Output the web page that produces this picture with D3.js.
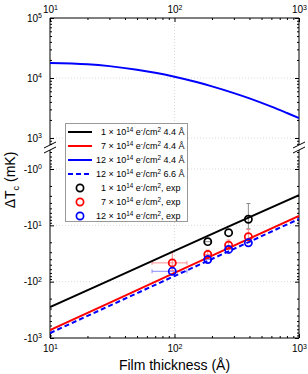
<!DOCTYPE html>
<html>
<head>
<meta charset="utf-8">
<script src="https://cdn.jsdelivr.net/npm/d3@7"></script>
<style>
body { margin: 0; background: #fff; }
svg { display: block; font-family: "Liberation Sans", Arial, sans-serif; }
</style>
</head>
<body>
<svg id="chart" width="308" height="374"></svg>
<script>
// film thickness (Angstrom) for the theory lines
var thick = [10, 30, 100, 300, 1000];
var dT_1e14 = [-283, -95, -28.5, -9.5, -2.9];
var dT_7e14 = [-724, -238, -70, -23, -6.8];
var dT_12e14_66 = [-818, -269, -79.5, -26.2, -7.7];

// the 12e14 4.4 A curve sits on the positive branch
var thickHi = [10, 20, 30, 50, 70, 100, 150, 200, 300, 400, 600, 800, 1000];
var dT_12e14_44 = [17800, 16950, 15770, 13740, 12190, 10470, 8550, 7260, 5600, 4570, 3330, 2610, 2150];

// experiment
var expThick1 = [185, 272, 392];
var expDT1 = [-19.5, -13.5, -7.8];
var expXErr1 = [10, 0, 0];
var expYErr1 = [0, 0, 3.7];

var expThick7 = [96, 185, 272, 392];
var expDT7 = [-46.4, -32.9, -22.5, -15.9];
var expXErr7 = [30, 10, 0, 0];
var expYErr7 = [17, 5.4, 4.3, 4];

var expThick12 = [96, 185, 272, 392];
var expDT12 = [-65.5, -40.5, -26.8, -20.4];
var expXErr12 = [30, 10, 0, 0];
var expYErr12 = [0, 0, 0, 0];

var xTicks = [10, 100, 1000];
var yTicksHi = [1e3, 1e4, 1e5];
var yTicksLo = [1, 10, 100, 1000]; // magnitudes of the negative branch

var legendItems = [
	{num: "1", tail: " 4.4 Å", color: "#000", kind: "line"},
	{num: "7", tail: " 4.4 Å", color: "#f00", kind: "line"},
	{num: "12", tail: " 4.4 Å", color: "#00f", kind: "line"},
	{num: "12", tail: " 6.6 Å", color: "#00f", kind: "dash"},
	{num: "1", tail: ", exp", color: "#000", kind: "circle"},
	{num: "7", tail: ", exp", color: "#f00", kind: "circle"},
	{num: "12", tail: ", exp", color: "#00f", kind: "circle"}
];

var svg = d3.select("#chart");
var pLeft = 50, pRight = 299, pTop = 18, pBottom = 338;
var hiBottom = 145, loTop = 150;

var x = d3.scaleLog().domain([10, 1000]).range([pLeft, pRight]);
var yHi = d3.scaleLog().domain([1e3, 1e5]).range([138, pTop]);
var yLo = d3.scaleLog().domain([1, 1000]).range([169, pBottom]);

var defs = svg.append("defs");
defs.append("clipPath").attr("id", "clipHi")
	.append("rect").attr("x", pLeft).attr("y", pTop).attr("width", pRight - pLeft).attr("height", hiBottom - pTop);
defs.append("clipPath").attr("id", "clipLo")
	.append("rect").attr("x", pLeft).attr("y", loTop).attr("width", pRight - pLeft).attr("height", pBottom - loTop);

// grid
var grid = svg.append("g")
	.attr("stroke", "#d0d0d0")
	.attr("stroke-width", 0.8)
	.attr("stroke-dasharray", "1,2");
grid.selectAll(".gx").data([100]).enter().append("line")
	.attr("x1", d => x(d)).attr("x2", d => x(d))
	.attr("y1", pTop).attr("y2", hiBottom);
grid.selectAll(".gx2").data([100]).enter().append("line")
	.attr("x1", d => x(d)).attr("x2", d => x(d))
	.attr("y1", loTop).attr("y2", pBottom);
grid.selectAll(".gh").data([1e3, 1e4]).enter().append("line")
	.attr("x1", pLeft).attr("x2", pRight)
	.attr("y1", d => yHi(d)).attr("y2", d => yHi(d));
grid.selectAll(".gl").data([1, 10, 100]).enter().append("line")
	.attr("x1", pLeft).attr("x2", pRight)
	.attr("y1", d => yLo(d)).attr("y2", d => yLo(d));

function supText(text, base, exp) {
	text.text(null);
	text.append("tspan").text(base);
	text.append("tspan").attr("dy", "-0.5em").attr("font-size", "0.7em").text(exp);
}

function minors(lo, hi) {
	var out = [];
	for (var p = lo; p < hi; p++) {
		for (var k = 2; k <= 9; k++) out.push(k * Math.pow(10, p));
	}
	return out;
}

function styleAxis(g) {
	g.select(".domain").remove();
	g.selectAll(".tick line").attr("stroke", "#000");
	g.selectAll("text").attr("fill", "#000").attr("font-size", 10);
}

// x axes, ticks point inward
var xMinor = minors(1, 3);
svg.append("g").attr("transform", "translate(0," + pBottom + ")")
	.call(d3.axisBottom(x).tickValues(xTicks).tickSize(-4).tickPadding(7))
	.call(styleAxis)
	.selectAll(".tick text").each(function(d) { supText(d3.select(this), "10", Math.round(Math.log10(d))); });
svg.append("g").attr("transform", "translate(0," + pBottom + ")")
	.call(d3.axisBottom(x).tickValues(xMinor).tickSize(-2).tickFormat(""))
	.call(styleAxis);
svg.append("g").attr("transform", "translate(0," + pTop + ")")
	.call(d3.axisTop(x).tickValues(xTicks).tickSize(-4).tickPadding(5))
	.call(styleAxis)
	.selectAll(".tick text").each(function(d) { supText(d3.select(this), "10", Math.round(Math.log10(d))); });
svg.append("g").attr("transform", "translate(0," + pTop + ")")
	.call(d3.axisTop(x).tickValues(xMinor).tickSize(-2).tickFormat(""))
	.call(styleAxis);

// y axes, upper (positive) part
var hiMinor = minors(2, 5).filter(d => yHi(d) <= hiBottom);
svg.append("g").attr("transform", "translate(" + pLeft + ",0)")
	.call(d3.axisLeft(yHi).tickValues(yTicksHi).tickSize(-4).tickPadding(8))
	.call(styleAxis)
	.selectAll(".tick text").each(function(d) { supText(d3.select(this), "10", Math.round(Math.log10(d))); });
svg.append("g").attr("transform", "translate(" + pLeft + ",0)")
	.call(d3.axisLeft(yHi).tickValues(hiMinor).tickSize(-2).tickFormat(""))
	.call(styleAxis);
svg.append("g").attr("transform", "translate(" + pRight + ",0)")
	.call(d3.axisRight(yHi).tickValues(yTicksHi).tickSize(-4).tickFormat(""))
	.call(styleAxis);
svg.append("g").attr("transform", "translate(" + pRight + ",0)")
	.call(d3.axisRight(yHi).tickValues(hiMinor).tickSize(-2).tickFormat(""))
	.call(styleAxis);

// y axes, lower (negative) part, plotted by magnitude
var loMinor = minors(-1, 3).filter(d => yLo(d) >= loTop);
svg.append("g").attr("transform", "translate(" + pLeft + ",0)")
	.call(d3.axisLeft(yLo).tickValues(yTicksLo).tickSize(-4).tickPadding(8))
	.call(styleAxis)
	.selectAll(".tick text").each(function(d) { supText(d3.select(this), "-10", Math.round(Math.log10(d))); });
svg.append("g").attr("transform", "translate(" + pLeft + ",0)")
	.call(d3.axisLeft(yLo).tickValues(loMinor).tickSize(-2).tickFormat(""))
	.call(styleAxis);
svg.append("g").attr("transform", "translate(" + pRight + ",0)")
	.call(d3.axisRight(yLo).tickValues(yTicksLo).tickSize(-4).tickFormat(""))
	.call(styleAxis);
svg.append("g").attr("transform", "translate(" + pRight + ",0)")
	.call(d3.axisRight(yLo).tickValues(loMinor).tickSize(-2).tickFormat(""))
	.call(styleAxis);

// box with a break in the y axis
var box = svg.append("g").attr("stroke", "#000").attr("stroke-width", 1).attr("fill", "none");
[pLeft, pRight].forEach(function(xx) {
	box.append("line").attr("x1", xx).attr("x2", xx).attr("y1", pTop).attr("y2", hiBottom);
	box.append("line").attr("x1", xx).attr("x2", xx).attr("y1", loTop).attr("y2", pBottom);
	box.append("line").attr("x1", xx - 6).attr("x2", xx + 6).attr("y1", hiBottom + 3).attr("y2", hiBottom - 3);
	box.append("line").attr("x1", xx - 6).attr("x2", xx + 6).attr("y1", loTop + 3).attr("y2", loTop - 3);
});
box.append("line").attr("x1", pLeft).attr("x2", pRight).attr("y1", pTop).attr("y2", pTop);
box.append("line").attr("x1", pLeft).attr("x2", pRight).attr("y1", pBottom).attr("y2", pBottom);

// error bars
var errs = svg.append("g").attr("clip-path", "url(#clipLo)").attr("stroke-width", 1);
function drawErr(xs, ys, xe, ye, color) {
	xs.forEach(function(t, i) {
		var m = -ys[i];
		var cy = yLo(m);
		if (xe[i] > 0) {
			var x0 = x(t - xe[i]), x1 = x(t + xe[i]);
			errs.append("line").attr("stroke", color).attr("x1", x0).attr("x2", x1).attr("y1", cy).attr("y2", cy);
			errs.append("line").attr("stroke", color).attr("x1", x0).attr("x2", x0).attr("y1", cy - 2).attr("y2", cy + 2);
			errs.append("line").attr("stroke", color).attr("x1", x1).attr("x2", x1).attr("y1", cy - 2).attr("y2", cy + 2);
		}
		if (ye[i] > 0) {
			var y0 = yLo(m - ye[i]), y1 = yLo(m + ye[i]);
			var cx = x(t);
			errs.append("line").attr("stroke", color).attr("x1", cx).attr("x2", cx).attr("y1", y0).attr("y2", y1);
			errs.append("line").attr("stroke", color).attr("x1", cx - 2).attr("x2", cx + 2).attr("y1", y0).attr("y2", y0);
			errs.append("line").attr("stroke", color).attr("x1", cx - 2).attr("x2", cx + 2).attr("y1", y1).attr("y2", y1);
		}
	});
}
drawErr(expThick1, expDT1, expXErr1, expYErr1, "#8a8a8a");
drawErr(expThick7, expDT7, expXErr7, expYErr7, "#ff8c8c");
drawErr(expThick12, expDT12, expXErr12, expYErr12, "#8c8cff");

// theory lines
var lineLo = d3.line()
	.x(d => x(d[0]))
	.y(d => yLo(-d[1]));
var lineHi = d3.line()
	.x(d => x(d[0]))
	.y(d => yHi(d[1]))
	.curve(d3.curveMonotoneX);

var lo = svg.append("g").attr("clip-path", "url(#clipLo)").attr("fill", "none").attr("stroke-width", 2);
lo.append("path").attr("d", lineLo(d3.zip(thick, dT_1e14))).attr("stroke", "#000");
lo.append("path").attr("d", lineLo(d3.zip(thick, dT_7e14))).attr("stroke", "#f00");
lo.append("path").attr("d", lineLo(d3.zip(thick, dT_12e14_66))).attr("stroke", "#00f").attr("stroke-dasharray", "5,3");

svg.append("g").attr("clip-path", "url(#clipHi)")
	.append("path")
	.attr("d", lineHi(d3.zip(thickHi, dT_12e14_44)))
	.attr("fill", "none")
	.attr("stroke", "#00f")
	.attr("stroke-width", 2);

// experiment markers
function drawPts(xs, ys, color) {
	svg.append("g").selectAll("circle")
		.data(d3.zip(xs, ys))
		.enter()
		.append("circle")
		.attr("cx", d => x(d[0]))
		.attr("cy", d => yLo(-d[1]))
		.attr("r", 3.6)
		.attr("fill", "none")
		.attr("stroke", color)
		.attr("stroke-width", 1.7);
}
drawPts(expThick1, expDT1, "#000");
drawPts(expThick7, expDT7, "#f00");
drawPts(expThick12, expDT12, "#00f");

// legend
var lg = svg.append("g");
lg.append("rect")
	.attr("x", 65.5).attr("y", 123.5).attr("width", 122).attr("height", 98)
	.attr("fill", "#fff").attr("stroke", "#999").attr("stroke-width", 1);
legendItems.forEach(function(it, i) {
	var cy = 132 + i * 14;
	if (it.kind === "circle") {
		lg.append("circle").attr("cx", 80).attr("cy", cy).attr("r", 3.6)
			.attr("fill", "none").attr("stroke", it.color).attr("stroke-width", 1.7);
	} else {
		lg.append("line").attr("x1", 68).attr("x2", 92).attr("y1", cy).attr("y2", cy)
			.attr("stroke", it.color).attr("stroke-width", 2)
			.attr("stroke-dasharray", it.kind === "dash" ? "5,3" : null);
	}
	lg.append("text").attr("x", 106).attr("y", cy + 3.2)
		.attr("text-anchor", "end").attr("font-size", 9).text(it.num);
	var t = lg.append("text").attr("x", 108.5).attr("y", cy + 3.2).attr("font-size", 9);
	t.append("tspan").text("× 10");
	t.append("tspan").attr("dy", -3.5).attr("font-size", 6.3).text("14");
	t.append("tspan").attr("dy", 3.5).text(" e");
	t.append("tspan").attr("dy", -3.5).attr("font-size", 6.3).text("-");
	t.append("tspan").attr("dy", 3.5).text("/cm");
	t.append("tspan").attr("dy", -3.5).attr("font-size", 6.3).text("2");
	t.append("tspan").attr("dy", 3.5).text(it.tail);
});

// axis titles
svg.append("text")
	.attr("x", (pLeft + pRight) / 2).attr("y", 370)
	.attr("text-anchor", "middle").attr("font-size", 14)
	.text("Film thickness (Å)");

var yl = svg.append("text")
	.attr("transform", "translate(15,180) rotate(-90)")
	.attr("text-anchor", "middle").attr("font-size", 14);
yl.append("tspan").text("ΔT");
yl.append("tspan").attr("dy", 4).attr("font-size", 9).text("c");
yl.append("tspan").attr("dy", -4).text(" (mK)");
</script>
</body>
</html>
